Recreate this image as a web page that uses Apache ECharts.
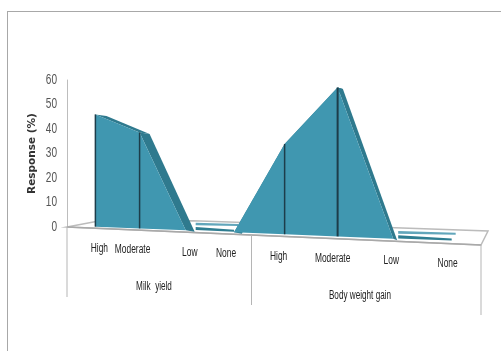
<!DOCTYPE html>
<html>
<head>
<meta charset="utf-8">
<style>
  html, body { margin: 0; padding: 0; background: #fff; }
  #chart { width: 501px; height: 351px; }
</style>
<script src="https://cdn.jsdelivr.net/npm/echarts@6/dist/echarts.min.js"></script>
</head>
<body>
<div id="chart"></div>
<script>
const categories = ['High', 'Moderate', 'Low', 'None', 'High', 'Moderate', 'Low', 'None']
const responseValues = [45.5, 38.5, 0, 0, 35, 57, 0, 0]
const groupNames = ['Milk  yield', 'Body weight gain']
const yTicks = [0, 10, 20, 30, 40, 50, 60]

const labelFont = '"Liberation Sans", sans-serif'
const labelNudge = [4, -7, 4, -8, -6, -5, -2, -4]
const gridBox = { left: 67, top: 80, width: 414, height: 147 }

// fake 3D: stretch x towards the viewer, then tilt the floor and scale heights
function warpX(px) {
  const t = (px - gridBox.left) / gridBox.width
  const c = -0.17
  return gridBox.left + 7 + 408 * ((1 + c) * t) / (1 + c * t)
}
function baseY(x) { return 226.7 + 0.0403 * (x - 96.5) }
function frontEdgeY(x) { return 227 + 0.0435 * (x - 67) }
function depthX(x) { return Math.max(3.5, 10 - (x - 140) * 0.024) }

// the library has no condensed font here, so squeeze the text horizontally
function narrowText(text, x, y, size, color, align, squeeze) {
  return {
    type: 'text', x: x, y: y, scaleX: squeeze, silent: true,
    style: {
      x: 0, y: 0, text: text, fill: color, font: size + 'px ' + labelFont,
      align: align, verticalAlign: 'middle'
    }
  }
}

function renderSegment(params, api) {
  const i = api.value(0)
  const zeroY = api.coord([i, 0])[1]
  const project = (idx, val) => {
    const p = api.coord([idx, val])
    const x = warpX(p[0])
    return [x, baseY(x) - (zeroY - p[1]) * (1 + 0.000245 * (x - 67))]
  }
  const children = []
  const poly = (points, fill) => children.push({
    type: 'polygon', shape: { points: points }, style: { fill: fill }
  })
  const a = project(i, responseValues[i])

  if (i < categories.length - 1) {
    const next = responseValues[i + 1]
    const b = project(i + 1, next)
    const a0 = project(i, 0)
    const b0 = project(i + 1, 0)
    const shift = p => [p[0] + depthX(p[0]), p[1] + 1.5]
    if (responseValues[i] > 0 || next > 0) {
      poly([a, b, shift(b), shift(a)], '#2f7a8e')
      poly([a0, a, b, b0], '#4097b0')
    } else {
      // flat zero stretch: only the two thin strips of the ribbon are left
      const ax = a0[0] + depthX(a0[0]) + 1
      poly([[ax, a0[1] - 7.6], [b0[0] + 4, b0[1] - 8.2], [b0[0] + 4, b0[1] - 6.2], [ax, a0[1] - 5]], '#62a6bb')
      poly([[ax, a0[1] - 3.4], [b0[0], b0[1] - 2.4], [b0[0], b0[1] - 0.4], [ax, a0[1] - 0.2]], '#2f7d91')
    }
  }
  if (responseValues[i] > 0) {
    const a0 = project(i, 0)
    children.push({
      type: 'line',
      shape: { x1: a[0], y1: a[1], x2: a0[0], y2: a0[1] },
      style: { stroke: '#1d3d4a', lineWidth: responseValues[i] > 50 ? 2 : 1.5 }
    })
  }
  const tickX = a[0] + labelNudge[i]
  children.push(narrowText(categories[i], tickX, frontEdgeY(tickX) + 20, 12, '#222', 'center', 0.7))
  return { type: 'group', children: children }
}

function renderYTick(params, api) {
  const p = api.coord([0, api.value(0)])
  return narrowText(String(api.value(0)), gridBox.left - 10, p[1], 14, '#555', 'right', 0.72)
}

const frameLine = (x1, y1, x2, y2, stroke, lineWidth) => ({
  type: 'line', z: 1, silent: true,
  shape: { x1: x1, y1: y1, x2: x2, y2: y2 },
  style: { stroke: stroke, lineWidth: lineWidth }
})
const groupLabel = (text, x, y) => ({
  type: 'text', z: 1, silent: true, x: x, y: y, scaleX: 0.68,
  style: { text: text, fill: '#222', font: '12px ' + labelFont, align: 'center', verticalAlign: 'middle' }
})

const chart = echarts.init(document.getElementById('chart'), null, { renderer: 'canvas' })
chart.setOption({
  animation: false,
  backgroundColor: '#fff',
  grid: gridBox,
  xAxis: { type: 'category', data: categories, show: false },
  yAxis: {
    type: 'value',
    min: yTicks[0],
    max: yTicks[yTicks.length - 1],
    interval: 10,
    name: 'Response (%)',
    nameLocation: 'middle',
    nameGap: 29,
    nameTextStyle: { fontFamily: 'DejaVu Sans', fontSize: 10.5, fontWeight: 'bold', color: '#333' },
    axisLine: { show: true, lineStyle: { color: '#bdbdbd', width: 1 } },
    axisTick: { show: false },
    splitLine: { show: false },
    axisLabel: { show: false }
  },
  graphic: [
    frameLine(7.5, 11.5, 7.5, 351, '#a8a8a8', 1),
    frameLine(7, 11.5, 501, 11.5, '#a8a8a8', 1),
    {
      type: 'polygon', z: 1, silent: true,
      shape: { points: [[67, 227], [96, 221.5], [193, 220.7], [488, 231], [481, 245]] },
      style: { fill: '#fff', stroke: '#bcbcbc', lineWidth: 1.5 }
    },
    frameLine(67, 227, 481, 245, '#a9a9a9', 1.5),
    frameLine(67, 227, 67, 297, '#b5b5b5', 1),
    frameLine(251.5, 235, 251.5, 305, '#b5b5b5', 1),
    frameLine(481, 245, 481, 315, '#b5b5b5', 1),
    groupLabel(groupNames[0], 154, 287),
    groupLabel(groupNames[1], 360, 296)
  ],
  series: [{
    type: 'custom',
    clip: false,
    z: 3,
    renderItem: renderSegment,
    encode: { x: 0, y: 1 },
    data: responseValues.map((v, i) => [i, v])
  }, {
    type: 'custom',
    clip: false,
    z: 3,
    renderItem: renderYTick,
    encode: { y: 0 },
    data: yTicks.map(v => [v])
  }]
})
</script>
</body>
</html>
